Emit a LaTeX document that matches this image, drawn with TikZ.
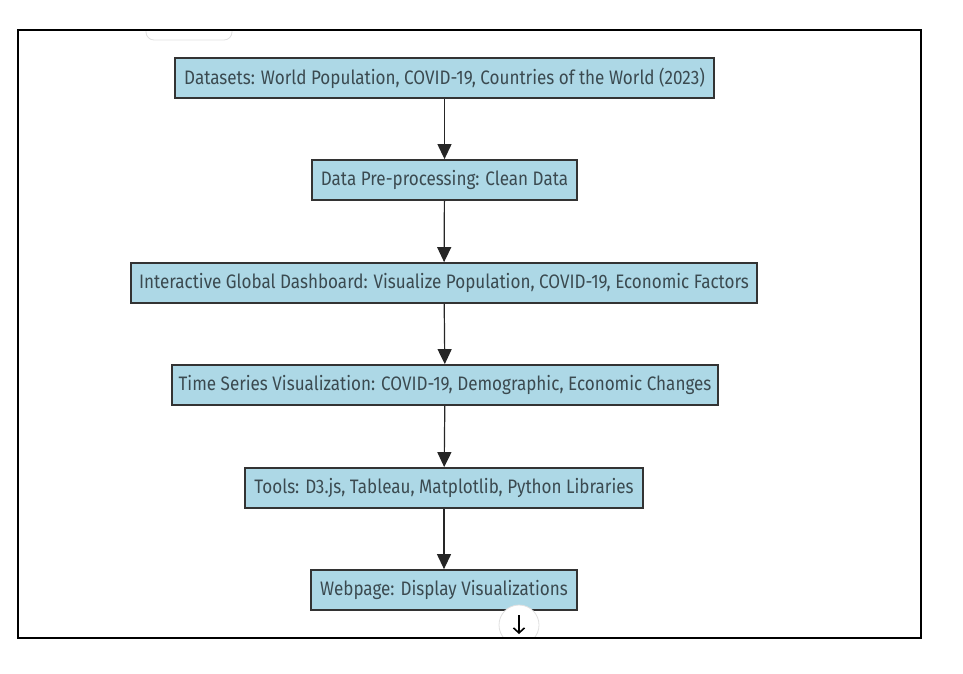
\documentclass[tikz,border=0pt]{standalone}
\usepackage{fontspec}
\newfontfamily\boxfont[FakeStretch=0.875]{Fira Sans}
\usetikzlibrary{arrows.meta}
\definecolor{boxfill}{HTML}{ADD8E6}
\definecolor{boxline}{HTML}{333333}
\definecolor{txt}{HTML}{3B4A50}
\begin{document}
\begin{tikzpicture}[x=1pt,y=-1pt,
  stepbox/.style={draw=boxline, line width=1.8pt, fill=boxfill, inner sep=0pt,
    minimum height=40pt, text=txt, font=\boxfont\fontsize{19.5}{22}\selectfont},
  flow/.style={draw=black!85, line width=1.2pt, -{Triangle[length=15pt,width=14pt]}},
  faint/.style={draw=black!12, fill=white, line width=0.8pt}]
\useasboundingbox (0,0) rectangle (963,673);
\fill[white] (0,0) rectangle (963,673);
\begin{scope}
  \clip (18,30) rectangle (921,638);
  \draw[faint, rounded corners=8pt] (146,12) rectangle (232,40);
\end{scope}

\node[stepbox, minimum width=539pt] (n1) at (444.5,78) {Datasets: World Population, COVID-19, Countries of the World (2023)};
\node[stepbox, minimum width=265pt] (n2) at (444.5,180) {Data Pre-processing: Clean Data};
\node[stepbox, minimum width=626pt] (n3) at (444,283) {Interactive Global Dashboard: Visualize Population, COVID-19, Economic Factors};
\node[stepbox, minimum width=546pt] (n4) at (445,385) {Time Series Visualization: COVID-19, Demographic, Economic Changes};
\node[stepbox, minimum width=398pt] (n5) at (444,488) {Tools: D3.js, Tableau, Matplotlib, Python Libraries};
\node[stepbox, minimum width=266pt] (n6) at (444,590) {Webpage: Display Visualizations};

\draw[flow] (n1) -- (n2);
\draw[flow] (n2) -- (n3);
\draw[flow] (n3) -- (n4);
\draw[flow] (n4) -- (n5);
\draw[flow] (n5) -- (n6);

\begin{scope}
  \clip (18,30) rectangle (921,638);
  \node[faint, circle, minimum size=40pt, inner sep=0pt] (btn) at (519,625) {};
\end{scope}
\coordinate (btop) at (519,615);
\coordinate (bbot) at (519,634);
\draw[line width=1.6pt, -{Straight Barb[length=5pt,width=11pt]}] (btop) -- (bbot);

\draw[line width=1.5pt] (18,30) rectangle (921,638);
\end{tikzpicture}
\end{document}
